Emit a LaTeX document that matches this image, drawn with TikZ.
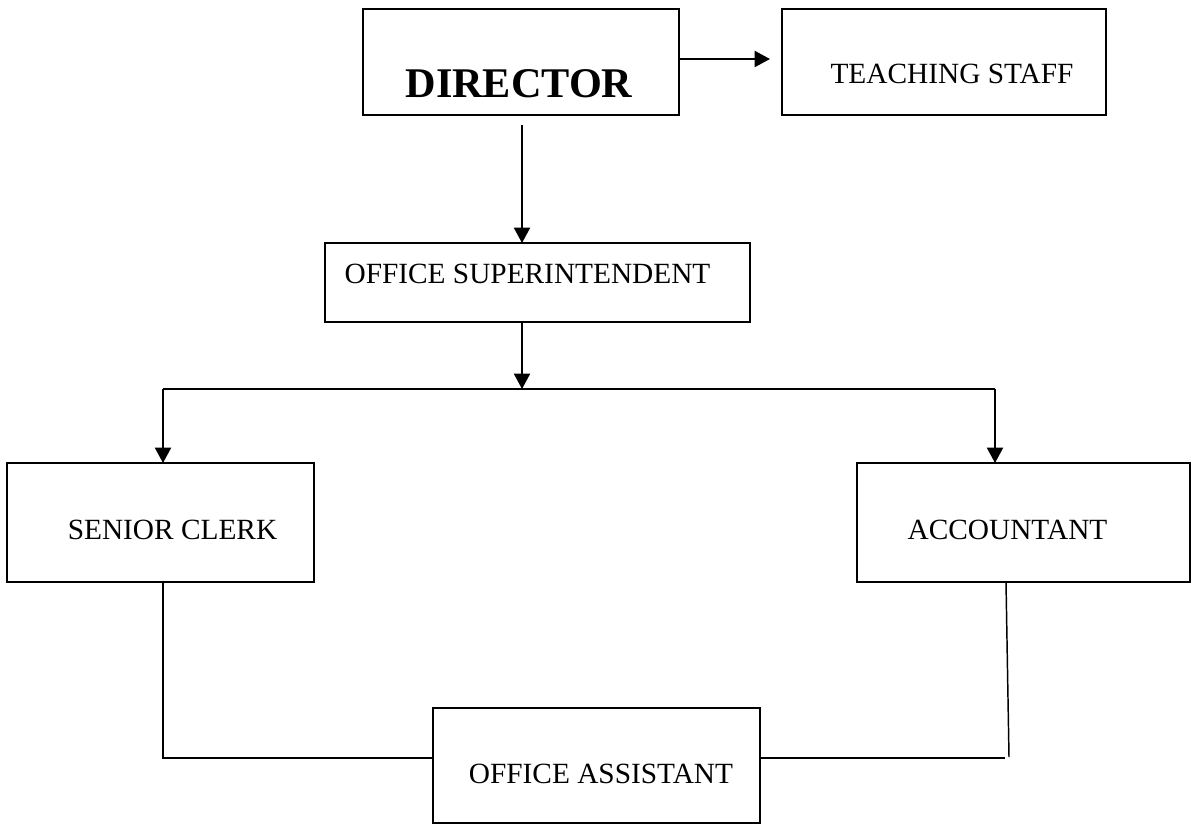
\documentclass[tikz,border=0pt]{standalone}
\usepackage{fontspec}
\setmainfont{Liberation Serif}
\usetikzlibrary{arrows.meta}
\begin{document}
\begin{tikzpicture}[x=0.75pt,y=-0.75pt,
  box/.style={draw=black,line width=1.5pt,inner sep=0pt,outer sep=0pt,fill=white},
  lbl/.style={anchor=base,inner sep=0pt,font=\fontsize{22pt}{26pt}\selectfont},
  big/.style={anchor=base,inner sep=0pt,font=\fontsize{31.7pt}{36pt}\selectfont\bfseries},
  arr/.style={draw=black,line width=1.5pt,-{Triangle[width=12pt,length=11.5pt]}},
  conn/.style={draw=black,line width=1.5pt},
  thinconn/.style={draw=black,line width=1.1pt}]
\useasboundingbox[fill=white] (0,0) rectangle (1192,825);
% boxes
\node[box,minimum width=237pt,minimum height=79.5pt] (dir) at (521,62) {};
\node[box,minimum width=243pt,minimum height=79.5pt] (ts) at (944,62) {};
\node[box,minimum width=318.75pt,minimum height=59.25pt] (os) at (537.5,282.5) {};
\node[box,minimum width=230.25pt,minimum height=89.25pt] (sc) at (160.5,522.5) {};
\node[box,minimum width=249.75pt,minimum height=89.25pt] (acc) at (1023.5,522.5) {};
\node[box,minimum width=245.25pt,minimum height=86.25pt] (oa) at (596.5,765.5) {};
% texts
\node[big] (tdir) at (519,97) {DIRECTOR};
\node[lbl] (tts) at (952,83) {TEACHING STAFF};
\node[lbl] (tos) at (527.5,283) {OFFICE SUPERINTENDENT};
\node[lbl] (tsc) at (172.5,539) {SENIOR CLERK};
\node[lbl] (tacc) at (1007.5,539) {ACCOUNTANT};
\node[lbl] (toa) at (601,783) {OFFICE ASSISTANT};
% connector points
\coordinate (bar) at (522,389);
\coordinate (barL) at (163,389);
\coordinate (barR) at (995,389);
\coordinate (j1) at (163,758);
\coordinate (j2) at (1005,758);
\coordinate (j3) at (1009,757);
% connectors
\draw[arr,shorten >=9pt] ([yshift=2.25pt]dir.east) -- ([yshift=2.25pt]dir.east -| ts.west);
\draw[arr,shorten <=7.5pt] ([xshift=0.75pt]dir.south) -- ([xshift=0.75pt]dir.south |- os.north);
\draw[arr] (os.south -| bar) -- (bar);
\draw[conn] (barL) -- (barR);
\draw[arr] (barL) -- (barL |- sc.north);
\draw[arr] (barR) -- (barR |- acc.north);
\draw[thinconn] (sc.south -| j1) -- (j1) -- (j1 -| oa.west);
\draw[thinconn] (oa.east |- j2) -- (j2);
\draw[thinconn] ([xshift=-13.125pt]acc.south) -- (j3);
\end{tikzpicture}
\end{document}
